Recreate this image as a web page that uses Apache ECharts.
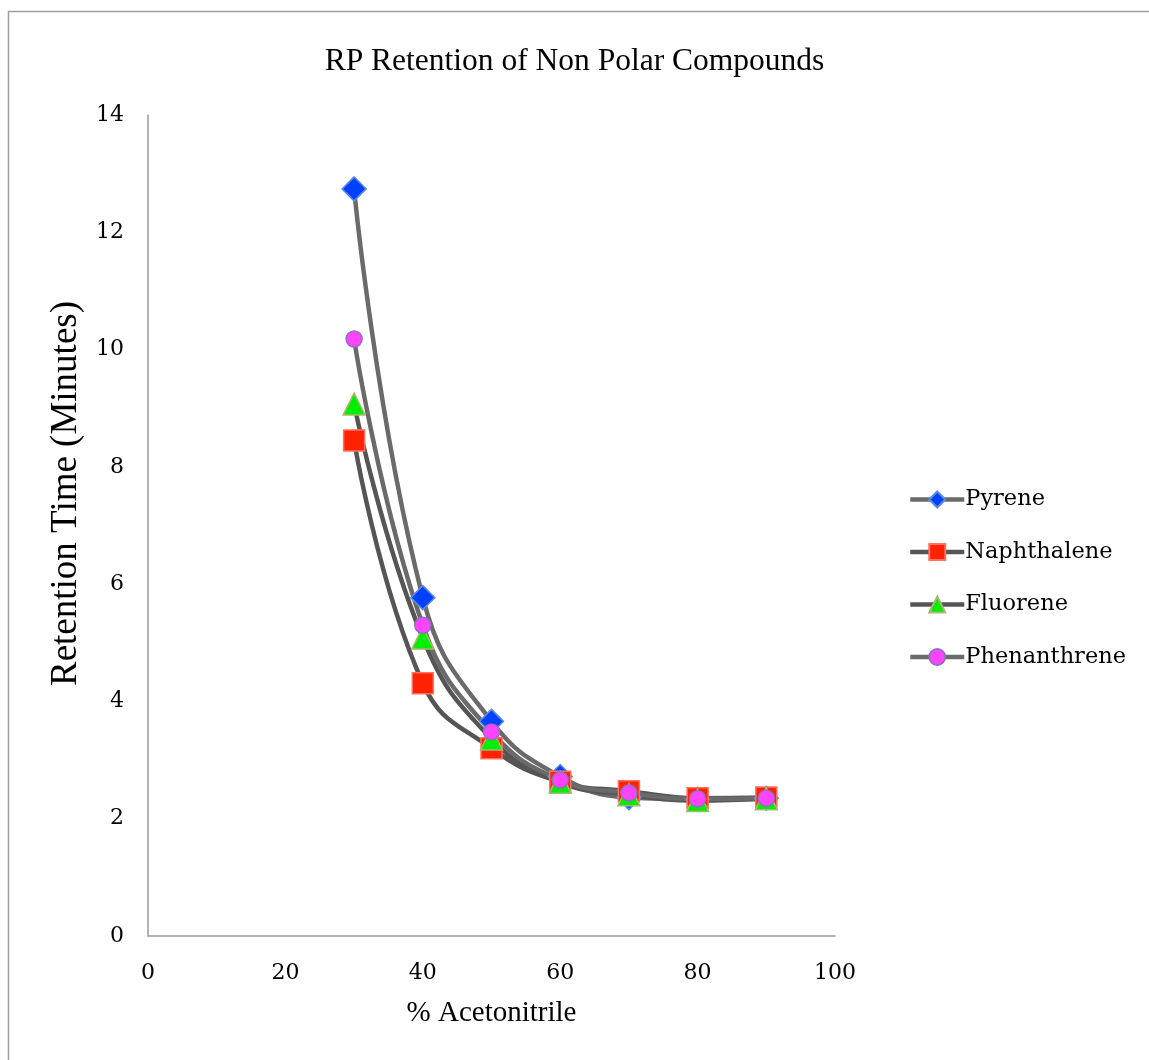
<!DOCTYPE html>
<html><head><meta charset="utf-8">
<script src="https://cdn.jsdelivr.net/npm/echarts@6/dist/echarts.min.js"></script>
<style>html,body{margin:0;padding:0;background:#fff}#c{width:1149px;height:1060px}</style>
</head><body><div id="c"></div>
<script>
const acetonitrile = [30, 40, 50, 60, 70, 80, 90];
const pyrene = [12.74, 5.77, 3.66, 2.72, 2.36, 2.33, 2.35];
const naphthalene = [8.45, 4.31, 3.2, 2.63, 2.47, 2.35, 2.36];
const fluorene = [9.07, 5.08, 3.36, 2.62, 2.41, 2.31, 2.34];
const phenanthrene = [10.18, 5.3, 3.48, 2.66, 2.44, 2.34, 2.35];
const seriesNames = ['Pyrene', 'Naphthalene', 'Fluorene', 'Phenanthrene'];

const pair = arr => acetonitrile.map((x, i) => [x, arr[i]]);
const serif = 'Liberation Serif';
const tickFont = 'DejaVu Serif';

function mk(name, data, lineColor, symbol, size, fill, border) {
  return {
    name, type: 'line', data: pair(data), smooth: 0.45,
    symbol, symbolSize: size,
    lineStyle: { color: lineColor, width: 4.5 },
    itemStyle: { color: fill, borderColor: border, borderWidth: 1.5 },
    emphasis: { disabled: true }
  };
}

const chart = echarts.init(document.getElementById('c'), null, { renderer: 'canvas' });
chart.setOption({
  animation: false,
  backgroundColor: '#fff',
  graphic: [{ type: 'rect', shape: { x: 8.5, y: 11.5, width: 1300, height: 1200 }, style: { fill: 'none', stroke: '#a0a0a0', lineWidth: 1.5 }, silent: true }],
  title: {
    text: 'RP Retention of Non Polar Compounds', left: 'center', top: 41,
    textStyle: { fontFamily: serif, fontWeight: 'normal', fontSize: 31.5, color: '#000' }
  },
  grid: { left: 148, right: 314, top: 115, bottom: 124 },
  xAxis: {
    type: 'value', min: 0, max: 100, interval: 20,
    name: '% Acetonitrile', nameLocation: 'middle', nameGap: 63,
    nameTextStyle: { fontFamily: serif, fontSize: 29, color: '#000' },
    axisLine: { lineStyle: { color: '#9a9a9a', width: 1.5 } },
    axisTick: { show: false }, splitLine: { show: false },
    axisLabel: { fontFamily: tickFont, fontSize: 22, color: '#000', margin: 26 }
  },
  yAxis: {
    type: 'value', min: 0, max: 14, interval: 2,
    name: 'Retention Time (Minutes)', nameLocation: 'middle', nameGap: 60,
    nameTextStyle: { fontFamily: serif, fontSize: 37, color: '#000', padding: [0, 0, 0, 64] },
    axisLine: { show: true, lineStyle: { color: '#9a9a9a', width: 1.5 } },
    axisTick: { show: false }, splitLine: { show: false },
    axisLabel: { fontFamily: tickFont, fontSize: 22, color: '#000', margin: 24 }
  },
  legend: {
    orient: 'vertical', left: 903, top: 483, itemGap: 29.5,
    itemWidth: 54, itemHeight: 20,
    lineStyle: { width: 4.5 },
    textStyle: { fontFamily: tickFont, fontSize: 22.5, color: '#000', padding: [0, 0, 0, -4] },
    data: seriesNames
  },
  series: [
    mk('Pyrene', pyrene, '#6a6a6a', 'diamond', 24, '#0040ff', '#5a8ae0'),
    mk('Naphthalene', naphthalene, '#555555', 'rect', 21, '#ff2200', '#ff7060'),
    mk('Fluorene', fluorene, '#555555', 'triangle', 22, '#00ee00', '#a8b870'),
    mk('Phenanthrene', phenanthrene, '#6a6a6a', 'circle', 16, '#ff44ff', '#9070c0')
  ]
});
</script></body></html>
